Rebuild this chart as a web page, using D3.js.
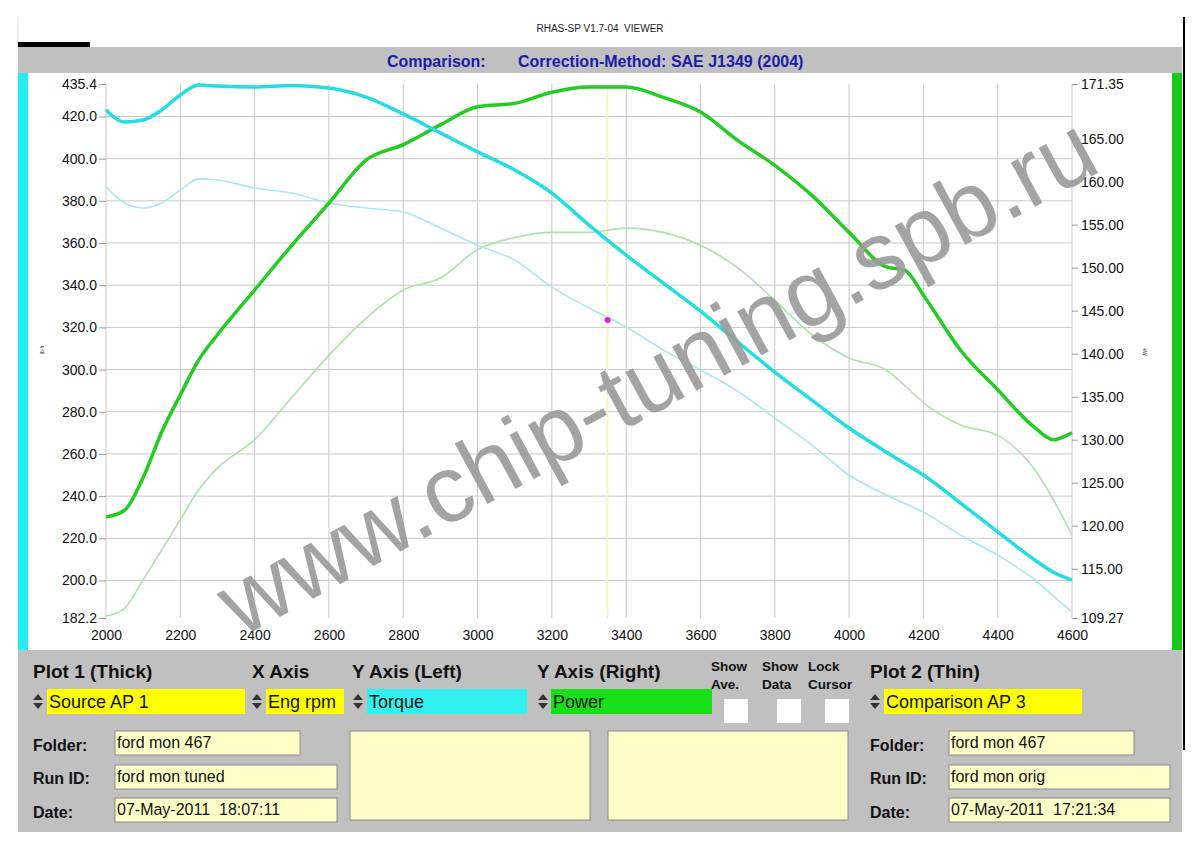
<!DOCTYPE html>
<html><head><meta charset="utf-8">
<script src="https://cdn.jsdelivr.net/npm/d3@7"></script>
<style>body{margin:0;background:#fff}svg{display:block}text{font-family:"Liberation Sans",Arial,sans-serif;white-space:pre}</style>
</head><body><svg id="c" width="1200" height="848"></svg>
<script>
const rpm = [2000,2050,2100,2150,2200,2250,2300,2400,2500,2600,2700,2800,2900,3000,3100,3200,3300,3400,3500,3600,3700,3800,3900,4000,4100,4150,4200,4300,4400,4500,4550,4600];
const torqueTuned = [423.1,417.4,418.3,423.1,430.2,434.9,434.4,434.0,434.7,433.5,429.2,421.2,412.2,403.2,394.6,383.7,368.5,354.3,341.0,327.7,313.1,298.8,285.5,272.3,260.9,255.5,250.0,236.7,223.0,209.7,203.9,200.2];
const torqueOrig  = [386.6,379.0,376.6,379.0,385.1,390.4,389.9,386.1,383.7,379.0,376.6,374.7,367.1,359.0,351.9,339.1,329.2,320.2,309.3,299.8,289.8,277.0,264.2,250.0,240.5,236.5,232.4,221.5,212.0,200.2,192.6,185.0];
const powerTuned  = [121.0,121.8,125.6,130.9,135.2,139.3,142.2,147.4,152.6,157.5,162.5,164.3,166.6,168.7,169.1,170.4,171.0,171.0,169.8,168.1,164.8,161.9,158.4,154.1,150.1,149.7,146.8,140.4,135.8,131.4,130.0,130.8];
const powerOrig   = [109.5,110.4,113.7,117.2,120.7,124.2,126.7,130.0,134.9,139.8,144.1,147.4,148.8,152.1,153.5,154.1,154.1,154.6,154.1,152.6,150.0,146.2,142.2,139.5,138.1,136.3,134.3,131.7,130.5,126.5,123.0,118.9];
const xTicks = [2000,2200,2400,2600,2800,3000,3200,3400,3600,3800,4000,4200,4400,4600];
const leftTicks = [435.4,420,400,380,360,340,320,300,280,260,240,220,200,182.2];
const rightTicks = [171.35,165,160,155,150,145,140,135,130,125,120,115,109.27];
const cursorRpm = 3350, cursorTorque = 323.5;

const svg = d3.select("#c");
const x = d3.scaleLinear().domain([2000,4600]).range([106,1072]);
const yL = d3.scaleLinear().domain([182.2,435.4]).range([618,84]);
const yR = d3.scaleLinear().domain([109.27,171.35]).range([618,84]);

// header
svg.append("line").attr("x1",18).attr("x2",18).attr("y1",17).attr("y2",48).attr("stroke","#ddd");
svg.append("text").attr("x",600).attr("y",32).attr("text-anchor","middle").attr("font-size",10)
  .style("font-family","'Liberation Sans Narrow','Liberation Sans',Arial").attr("fill","#222").text("RHAS-SP V1.7-04  VIEWER");
svg.append("rect").attr("x",18).attr("y",42).attr("width",72).attr("height",5).attr("fill","#000");
svg.append("rect").attr("x",18).attr("y",47).attr("width",1164).attr("height",26).attr("fill","#c0c0c0");
svg.append("text").attr("x",387).attr("y",67).attr("font-size",16).attr("font-weight","bold").attr("fill","#1c1ca8").text("Comparison:");
svg.append("text").attr("x",518).attr("y",67).attr("font-size",16).attr("font-weight","bold").attr("fill","#1c1ca8").text("Correction-Method: SAE J1349 (2004)");
svg.append("line").attr("x1",1184).attr("x2",1184).attr("y1",17).attr("y2",750).attr("stroke","#000").attr("stroke-width",2);

// plot box
svg.append("rect").attr("x",18).attr("y",73).attr("width",1164).attr("height",577).attr("fill","#fff");
svg.append("rect").attr("x",18).attr("y",73).attr("width",10).attr("height",577).attr("fill","#22eef0");
svg.append("rect").attr("x",1172).attr("y",73).attr("width",10).attr("height",577).attr("fill","#18c818");

// grid
const g = svg.append("g");
g.selectAll(".vg").data(xTicks).join("line").attr("x1",d=>x(d)).attr("x2",d=>x(d)).attr("y1",84).attr("y2",618).attr("stroke","#c8c8c8");
g.selectAll(".hg").data(leftTicks.slice(1,-1)).join("line").attr("x1",106).attr("x2",1072).attr("y1",d=>yL(d)).attr("y2",d=>yL(d)).attr("stroke","#c8c8c8");

// axes
const axL = svg.append("g").attr("transform","translate(106,0)")
  .call(d3.axisLeft(yL).tickValues(leftTicks).tickFormat(d3.format(".1f")).tickSize(7).tickSizeOuter(0));
const axR = svg.append("g").attr("transform","translate(1072,0)")
  .call(d3.axisRight(yR).tickValues(rightTicks).tickFormat(d3.format(".2f")).tickSize(6).tickSizeOuter(0));
const axB = svg.append("g").attr("transform","translate(0,618)")
  .call(d3.axisBottom(x).tickValues(xTicks).tickFormat(d3.format("d")).tickSize(0).tickSizeOuter(0));
[axL,axR,axB].forEach(a=>{a.select(".domain").remove();a.selectAll("line").attr("stroke","#999");
  a.selectAll("text").attr("font-size",14).attr("fill","#111").style("font-family","'Liberation Sans',Arial");});
axL.selectAll("text").attr("x",-9);
axR.selectAll("text").attr("x",9);
axB.selectAll("text").attr("dy","1.35em");
svg.append("text").attr("transform","translate(44,350) rotate(-90)").attr("font-size",5).attr("text-anchor","middle").attr("fill","#333").text("lb-ft");
svg.append("text").attr("transform","translate(1143,352) rotate(90)").attr("font-size",5).attr("text-anchor","middle").attr("fill","#333").text("kW");

// cursor
svg.append("line").attr("x1",x(cursorRpm)).attr("x2",x(cursorRpm)).attr("y1",84).attr("y2",618).attr("stroke","#fff0b8").attr("stroke-width",1.5);

// curves
const mk = (ys, sc) => d3.line().x((d,i)=>x(rpm[i])).y(d=>sc(d)).curve(d3.curveMonotoneX)(ys);
svg.append("path").attr("d",mk(powerOrig,yR)).attr("fill","none").attr("stroke","#a8e4a8").attr("stroke-width",1.6);
svg.append("path").attr("d",mk(torqueOrig,yL)).attr("fill","none").attr("stroke","#a8e8ea").attr("stroke-width",1.6);
svg.append("path").attr("d",mk(powerTuned,yR)).attr("fill","none").attr("stroke","#22cc22").attr("stroke-width",3.5);
svg.append("path").attr("d",mk(torqueTuned,yL)).attr("fill","none").attr("stroke","#22dde2").attr("stroke-width",3.5);
svg.append("circle").attr("cx",x(cursorRpm)).attr("cy",yL(cursorTorque)).attr("r",3).attr("fill","#e020e0");

// watermark
svg.append("text").attr("transform","translate(672,404) rotate(-28.5)").attr("text-anchor","middle")
  .attr("font-size",95).attr("fill","#9a9a9a").attr("opacity",0.9).text("www.chip-tuning.spb.ru");

// bottom panel
const P = svg.append("g");
P.append("rect").attr("x",18).attr("y",650).attr("width",1164).attr("height",182).attr("fill","#c0c0c0");
const bold = (t,xx,yy,fs)=>P.append("text").attr("x",xx).attr("y",yy).attr("font-size",fs).attr("font-weight","bold").attr("fill","#111").text(t);
bold("Plot 1 (Thick)",33,678,19); bold("X Axis",252,678,19); bold("Y Axis (Left)",352,678,19);
bold("Y Axis (Right)",537,678,19); bold("Plot 2 (Thin)",870,678,19);
bold("Show",711,671,13.5); bold("Ave.",711,689,13.5); bold("Show",762,671,13.5); bold("Data",762,689,13.5);
bold("Lock",808,671,13.5); bold("Cursor",808,689,13.5);
const spin = (xx,yy)=>{P.append("path").attr("d",`M${xx},${yy+6}L${xx+5},${yy}L${xx+10},${yy+6}Z`).attr("fill","#333");
  P.append("path").attr("d",`M${xx},${yy+9}L${xx+5},${yy+15}L${xx+10},${yy+9}Z`).attr("fill","#333");};
const field = (xx,yy,w,h,fill,t,fs)=>{P.append("rect").attr("x",xx).attr("y",yy).attr("width",w).attr("height",h).attr("fill",fill);
  if(t) P.append("text").attr("x",xx+2).attr("y",yy+h-6).attr("font-size",fs).attr("fill","#111").text(t);};
spin(33,694); field(47,689,198,25,"#ffff00","Source AP 1",18);
spin(252,694); field(266,689,78,25,"#ffff00","Eng rpm",18);
spin(353,694); field(367,689,160,25,"#30f0f0","Torque",18);
spin(538,694); field(551,689,161,25,"#18e018","Power",18);
[724,777,825].forEach(xx=>P.append("rect").attr("x",xx).attr("y",699).attr("width",24).attr("height",24).attr("fill","#fff"));
spin(870,694); field(884,689,198,25,"#ffff00","Comparison AP 3",18);
const inset = (xx,yy,w,h,t)=>{P.append("rect").attr("x",xx).attr("y",yy).attr("width",w).attr("height",h).attr("fill","#ffffc8").attr("stroke","#8a8a8a").attr("stroke-width",1);
  if(t) P.append("text").attr("x",xx+2).attr("y",yy+h-7).attr("font-size",16).attr("fill","#111").text(t);};
bold("Folder:",33,751,16); bold("Run ID:",33,784,16); bold("Date:",33,818,16);
inset(115,731,185,24,"ford mon 467"); inset(115,765,222,24,"ford mon tuned"); inset(115,798,222,24,"07-May-2011  18:07:11");
inset(350,731,240,89,""); inset(608,731,240,89,"");
bold("Folder:",870,751,16); bold("Run ID:",870,784,16); bold("Date:",870,818,16);
inset(949,731,185,24,"ford mon 467"); inset(949,765,221,24,"ford mon orig"); inset(949,798,221,24,"07-May-2011  17:21:34");
</script></body></html>
